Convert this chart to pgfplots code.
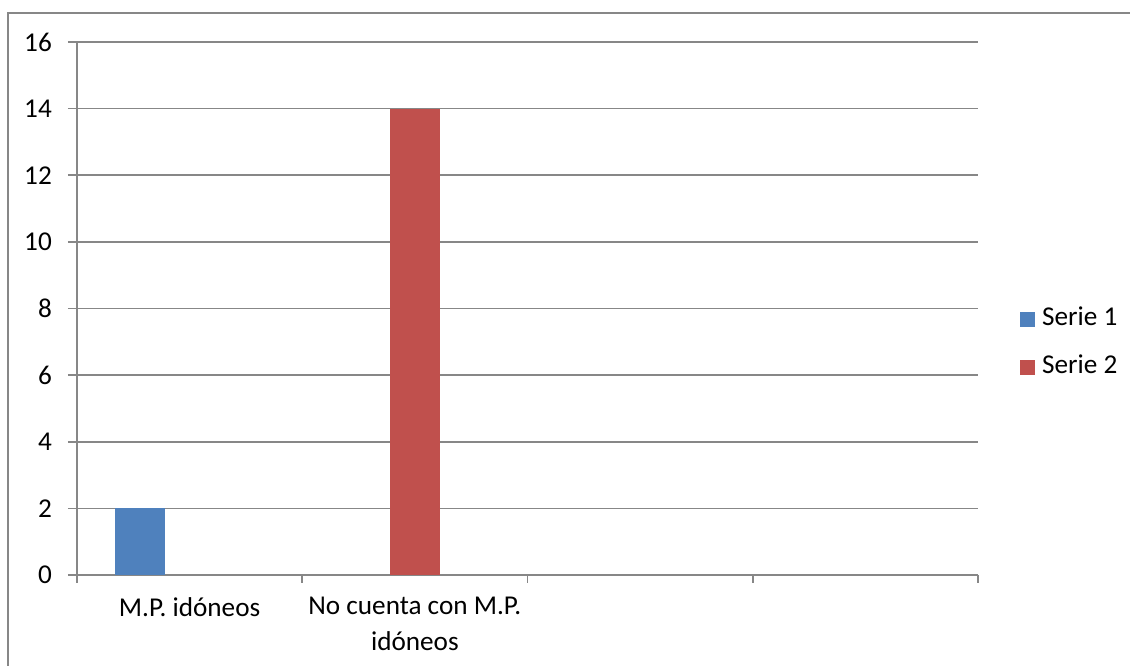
\documentclass[border=0pt]{standalone}
\usepackage{pgfplots}
\pgfplotsset{compat=1.18}
\usepackage{fontspec}
\setmainfont{Carlito}
\definecolor{gridgray}{HTML}{878787}
\definecolor{sone}{HTML}{4F81BD}
\definecolor{stwo}{HTML}{C0504D}
\begin{document}
\begin{tikzpicture}[x=1pt,y=1pt]
\path[use as bounding box] (0,0) rectangle (1130,666);
\draw[gridgray, line width=1.6pt] (8,-5) -- (8,653) -- (1135,653);
\begin{axis}[
  at={(77pt,91pt)}, anchor=south west,
  scale only axis, width=901pt, height=533pt,
  xmin=-0.5, xmax=3.5, ymin=0, ymax=16,
  ytick={0,2,...,16},
  xtick={0,1,2,3},
  xticklabels={M.P. idóneos,{No cuenta con M.P.\\idóneos},{},{}},
  minor xtick={-0.5,0.5,1.5,2.5,3.5},
  every major x tick/.style={draw=none},
  major tick length=9pt, minor tick length=8pt,
  tick align=outside,
  axis x line*=bottom, axis y line*=left,
  axis line style={gridgray, line width=1.6pt, -},
  every tick/.style={gridgray, line width=1.6pt},
  ymajorgrids, major grid style={gridgray, line width=1.6pt},
  /pgf/number format/assume math mode=true,
  tick label style={font=\fontsize{27.2}{36}\selectfont, text=black},
  yticklabel style={inner sep=0pt, xshift=-16pt},
  xticklabel style={inner sep=0pt, align=center, anchor=north, yshift=-13pt},
  ybar, bar width=0.222,
  legend style={draw=none, fill=none, at={(1.0466,0.4343)}, anchor=west,
    inner sep=0pt, row sep=24pt, column sep=7pt,
    nodes={inner sep=0pt, text height=18pt, text depth=6pt, anchor=west},
    font=\fontsize{27.2}{32}\selectfont},
  legend image code/.code={\fill[#1] (0pt,-7.5pt) rectangle (15pt,7.5pt);},
]
\addplot[fill=sone, draw=none, bar shift=-0.222] coordinates {(0,2)};
\addlegendentry{Serie 1}
\addplot[fill=stwo, draw=none, bar shift=0] coordinates {(1,14)};
\addlegendentry{Serie 2}
\end{axis}
\end{tikzpicture}
\end{document}
